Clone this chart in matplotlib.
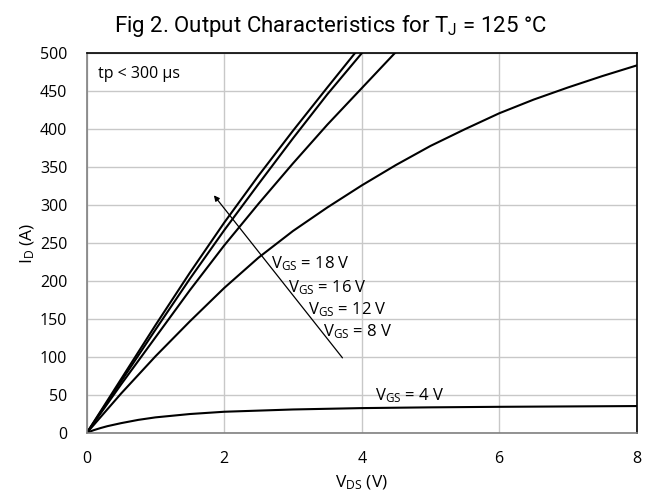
import matplotlib
matplotlib.use("Agg")
import matplotlib.pyplot as plt
import numpy as np

plt.rcParams['font.family'] = ['Open Sans', 'DejaVu Sans']
plt.rcParams['mathtext.fontset'] = 'custom'
plt.rcParams['mathtext.rm'] = 'Open Sans'
plt.rcParams['mathtext.it'] = 'Open Sans'

# ---- curves (V_DS [V], I_D [A]) ----
vds_18 = [0, 0.5, 1.0, 1.5, 2.0, 2.5, 3.0, 3.5, 3.9]
id_18 = [0, 71, 142, 211, 277, 339, 398, 455, 500]

vds_16 = [0, 0.5, 1.0, 1.5, 2.0, 2.5, 3.0, 3.5, 4.0]
id_16 = [0, 68, 136, 203, 267, 328, 388, 446, 500]

vds_12 = [0, 0.5, 1.0, 1.5, 2.0, 2.5, 3.0, 3.5, 4.0, 4.5]
id_12 = [0, 64, 126, 188, 247, 302, 355, 406, 454, 502]

vds_8 = [0, 0.5, 1.0, 1.5, 2.0, 2.5, 3.0, 3.5, 4.0, 4.5, 5.0, 5.5, 6.0, 6.5, 7.0, 7.5, 8.0]
id_8 = [0, 52, 101, 147, 191, 231, 266, 297, 326, 353, 378, 400, 421, 439, 455, 470, 484]

vds_4 = [0, 0.05, 0.1, 0.2, 0.3, 0.5, 0.75, 1.0, 1.5, 2.0, 3.0, 4.0, 5.0, 6.0, 7.0, 8.0]
id_4 = [0, 2, 3.7, 6.5, 9, 13, 17.3, 20.6, 25, 28, 31, 32.8, 33.8, 34.5, 35, 35.5]

curves = [(vds_18, id_18), (vds_16, id_16), (vds_12, id_12), (vds_8, id_8), (vds_4, id_4)]

labels = ["18", "16", "12", "8", "4"]
label_pos = [(2.68, 223), (2.93, 192), (3.22, 162), (3.44, 133), (4.19, 49)]

xticks = [0, 2, 4, 6, 8]
yticks = np.arange(0, 501, 50)

fig = plt.figure(figsize=(6.54, 5.01), dpi=100)
ax = fig.add_axes([0.1326, 0.1357, 0.9735 - 0.1326, 0.8936 - 0.1357])

for vx, iy in curves:
    ax.plot(vx, iy, color='black', lw=1.5, solid_joinstyle='round')

# arrow across the family of curves
ax.annotate("", xy=(1.85, 313), xytext=(3.72, 99),
            arrowprops=dict(arrowstyle='-|>', color='black', lw=0.9,
                            mutation_scale=8, shrinkA=0, shrinkB=0))

for lab, (lx, ly) in zip(labels, label_pos):
    ax.text(lx, ly, r"V$_\mathregular{GS}$ = " + lab + " V", fontsize=12,
            ha='left', va='center')

ax.text(0.17, 473, "tp < 300 µs", fontsize=11.5, ha='left', va='center')

ax.set_xlim(0, 8)
ax.set_ylim(0, 500)
ax.set_xticks(xticks)
ax.set_yticks(yticks)
ax.tick_params(length=0, labelsize=11.5)
ax.tick_params(axis='x', pad=13)
ax.tick_params(axis='y', pad=14)
ax.grid(True, color='#c8c8c8', lw=1.0)
ax.set_axisbelow(True)

for s in ['left', 'bottom']:
    ax.spines[s].set_color('#808080')
    ax.spines[s].set_linewidth(1.2)
for s in ['top', 'right']:
    ax.spines[s].set_color('black')
    ax.spines[s].set_linewidth(1.2)

ax.set_xlabel(r"V$_\mathregular{DS}$ (V)", fontsize=12.5, labelpad=5)
ax.set_ylabel(r"I$_\mathregular{D}$ (A)", fontsize=12.5, labelpad=2)

fig.suptitle(r"Fig 2. Output Characteristics for T$_\mathregular{J}$ = 125 °C",
             fontsize=16, family='Roboto', x=0.506, y=0.975)

fig.savefig("out.png", dpi=100)
